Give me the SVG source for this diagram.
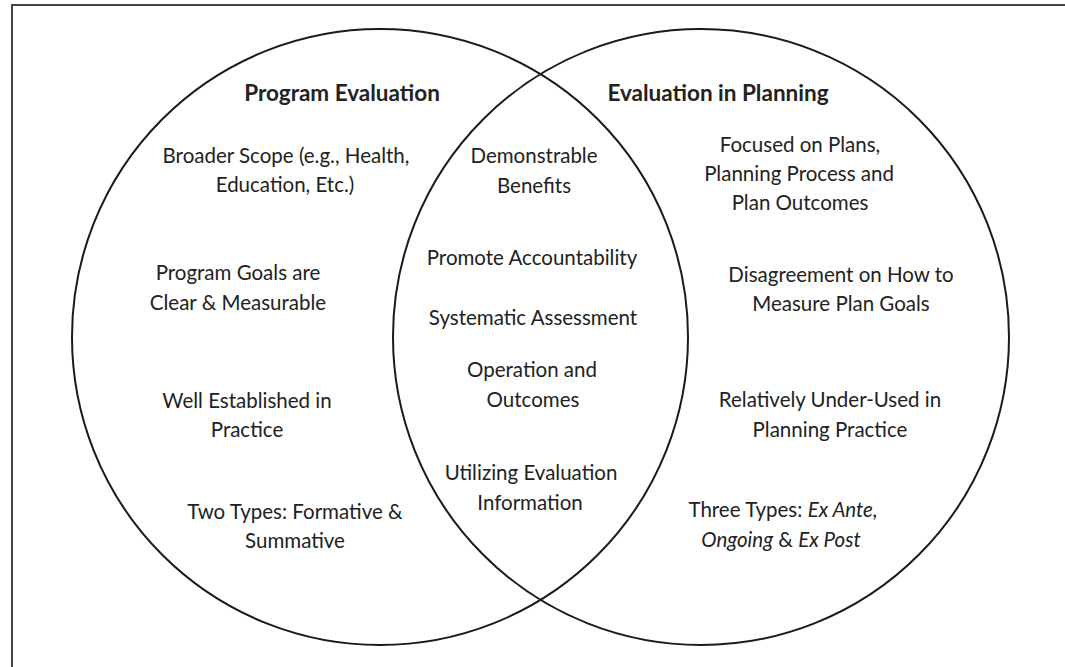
<svg xmlns="http://www.w3.org/2000/svg" width="1065" height="667" viewBox="0 0 1065 667">
<style>
  .frame { fill: none; stroke: #444; stroke-width: 2; }
  .circle { fill: none; stroke: #1a1a1a; stroke-width: 2; }
  text { font-family: Lato, "Liberation Sans", sans-serif; font-size: 20.5px; fill: #222; text-anchor: middle; }
  .title { font-weight: bold; font-size: 22.5px; }
  .it { font-style: italic; }
</style>
<rect width="1065" height="667" fill="#ffffff"/>
<rect class="frame" x="12" y="5" width="1100" height="700"/>
<g id="circle-program-evaluation">
  <circle class="circle" cx="380" cy="337" r="308"/>
</g>
<g id="circle-evaluation-in-planning">
  <circle class="circle" cx="701" cy="337" r="308"/>
</g>
<g id="connectors"></g>
<g id="title-program-evaluation"><text class="title" x="342" y="101">Program Evaluation</text></g>
<g id="title-evaluation-in-planning"><text class="title" x="718" y="101">Evaluation in Planning</text></g>
<g id="pe-1"><text x="286" y="163">Broader Scope (e.g., Health,</text><text x="285" y="192">Education, Etc.)</text></g>
<g id="pe-2"><text x="238" y="280">Program Goals are</text><text x="238" y="310">Clear &amp; Measurable</text></g>
<g id="pe-3"><text x="247" y="408">Well Established in</text><text x="247" y="437">Practice</text></g>
<g id="pe-4"><text x="295" y="519">Two Types: Formative &amp;</text><text x="295" y="548">Summative</text></g>
<g id="both-1"><text x="534" y="163">Demonstrable</text><text x="534" y="193">Benefits</text></g>
<g id="both-2"><text x="532" y="265">Promote Accountability</text></g>
<g id="both-3"><text x="533" y="325">Systematic Assessment</text></g>
<g id="both-4"><text x="532" y="377">Operation and</text><text x="533" y="407">Outcomes</text></g>
<g id="both-5"><text x="531" y="480">Utilizing Evaluation</text><text x="530" y="510">Information</text></g>
<g id="ep-1"><text x="800" y="152">Focused on Plans,</text><text x="799" y="181">Planning Process and</text><text x="800" y="210">Plan Outcomes</text></g>
<g id="ep-2"><text x="841" y="282">Disagreement on How to</text><text x="841" y="311">Measure Plan Goals</text></g>
<g id="ep-3"><text x="830" y="407">Relatively Under-Used in</text><text x="830" y="437">Planning Practice</text></g>
<g id="ep-4"><text x="783" y="517">Three Types: <tspan class="it">Ex Ante,</tspan></text><text x="781" y="547"><tspan class="it">Ongoing</tspan> &amp; <tspan class="it">Ex Post</tspan></text></g>
</svg>
